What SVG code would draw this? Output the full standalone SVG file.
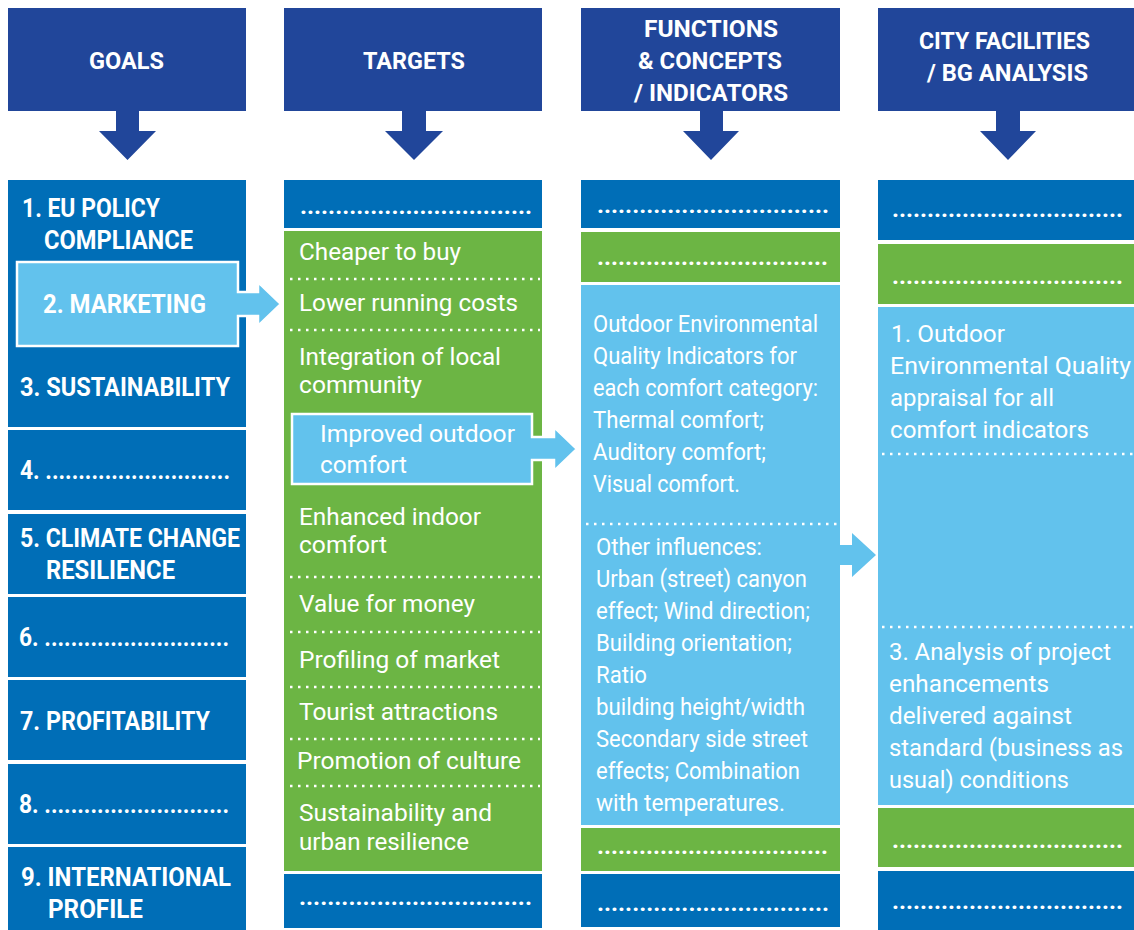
<svg xmlns="http://www.w3.org/2000/svg" width="1134" height="930" viewBox="0 0 1134 930">
<style>
.hdr{fill:#21469a}
.dk{fill:#006eb7}
.gr{fill:#6cb544}
.lb{fill:#62c2ed}
text{font-family:Roboto,"Liberation Sans",sans-serif;fill:#fff}
.h{font-size:24px;font-weight:700}
.g{font-size:25px;font-weight:700}
.t{font-size:23px;font-weight:400}
.f{font-size:23.5px;font-weight:400}
.d{font-size:24px;font-weight:700}
.dl{stroke:#fff;stroke-width:2.5;stroke-dasharray:2.5 5.5;fill:none}
</style>
<rect width="1134" height="930" fill="#fff"/>

<g id="header-goals">
<rect class="hdr" x="8" y="8" width="238" height="103"/>
<path class="hdr" d="M116,110 H139 V131 H156 L127.5,160 L99,131 H116 Z"/>
<text class="h" x="89" y="69" textLength="75" lengthAdjust="spacingAndGlyphs">GOALS</text>
</g>
<g id="header-targets">
<rect class="hdr" x="284" y="8" width="258" height="103"/>
<path class="hdr" d="M402,110 H426 V131 H443 L414,160 L385,131 H402 Z"/>
<text class="h" x="363" y="69" textLength="102" lengthAdjust="spacingAndGlyphs">TARGETS</text>
</g>
<g id="header-functions">
<rect class="hdr" x="581" y="8" width="259" height="103"/>
<path class="hdr" d="M700,110 H723 V131 H739 L711,160 L683,131 H700 Z"/>
<text class="h" x="644" y="37" textLength="134" lengthAdjust="spacingAndGlyphs">FUNCTIONS</text>
<text class="h" x="638" y="69" textLength="144" lengthAdjust="spacingAndGlyphs">&amp; CONCEPTS</text>
<text class="h" x="634" y="101" textLength="154" lengthAdjust="spacingAndGlyphs">/ INDICATORS</text>
</g>
<g id="header-city">
<rect class="hdr" x="878" y="8" width="256" height="103"/>
<path class="hdr" d="M996,110 H1020 V131 H1036 L1008,160 L980,131 H996 Z"/>
<text class="h" x="919" y="49" textLength="171" lengthAdjust="spacingAndGlyphs">CITY FACILITIES</text>
<text class="h" x="927" y="81" textLength="161" lengthAdjust="spacingAndGlyphs">/ BG ANALYSIS</text>
</g>

<g id="goals">
<rect class="dk" x="8" y="180" width="238" height="247"/>
<rect class="dk" x="8" y="430" width="238" height="80"/>
<rect class="dk" x="8" y="514" width="238" height="80"/>
<rect class="dk" x="8" y="597" width="238" height="80"/>
<rect class="dk" x="8" y="680" width="238" height="80"/>
<rect class="dk" x="8" y="764" width="238" height="80"/>
<rect class="dk" x="8" y="847" width="238" height="83"/>
<text class="g" x="22" y="217" textLength="138" lengthAdjust="spacingAndGlyphs">1. EU POLICY</text>
<text class="g" x="44" y="249" textLength="149" lengthAdjust="spacingAndGlyphs">COMPLIANCE</text>
<text class="g" x="20" y="396" textLength="210" lengthAdjust="spacingAndGlyphs">3. SUSTAINABILITY</text>
<text class="g" x="20" y="479" textLength="210" lengthAdjust="spacingAndGlyphs">4. ............................</text>
<text class="g" x="20" y="547" textLength="220" lengthAdjust="spacingAndGlyphs">5. CLIMATE CHANGE</text>
<text class="g" x="46" y="579" textLength="129" lengthAdjust="spacingAndGlyphs">RESILIENCE</text>
<text class="g" x="19" y="646" textLength="210" lengthAdjust="spacingAndGlyphs">6. ............................</text>
<text class="g" x="20" y="730" textLength="190" lengthAdjust="spacingAndGlyphs">7. PROFITABILITY</text>
<text class="g" x="19" y="813" textLength="210" lengthAdjust="spacingAndGlyphs">8. ............................</text>
<text class="g" x="21" y="886" textLength="210" lengthAdjust="spacingAndGlyphs">9. INTERNATIONAL</text>
<text class="g" x="48" y="918" textLength="95" lengthAdjust="spacingAndGlyphs">PROFILE</text>
</g>

<g id="targets">
<rect class="dk" x="284" y="180" width="258" height="48"/>
<rect class="gr" x="284" y="231" width="258" height="640"/>
<rect class="dk" x="284" y="874" width="258" height="54"/>
<text class="d" x="300" y="214" textLength="232" lengthAdjust="spacingAndGlyphs">.................................</text>
<text class="t" x="299" y="260" textLength="162" lengthAdjust="spacingAndGlyphs">Cheaper to buy</text>
<text class="t" x="299" y="311" textLength="219" lengthAdjust="spacingAndGlyphs">Lower running costs</text>
<text class="t" x="299" y="365" textLength="202" lengthAdjust="spacingAndGlyphs">Integration of local</text>
<text class="t" x="299" y="393" textLength="123" lengthAdjust="spacingAndGlyphs">community</text>
<text class="t" x="299" y="525" textLength="182" lengthAdjust="spacingAndGlyphs">Enhanced indoor</text>
<text class="t" x="299" y="553" textLength="88" lengthAdjust="spacingAndGlyphs">comfort</text>
<text class="t" x="299" y="612" textLength="176" lengthAdjust="spacingAndGlyphs">Value for money</text>
<text class="t" x="299" y="668" textLength="201" lengthAdjust="spacingAndGlyphs">Profiling of market</text>
<text class="t" x="299" y="720" textLength="199" lengthAdjust="spacingAndGlyphs">Tourist attractions</text>
<text class="t" x="297" y="769" textLength="224" lengthAdjust="spacingAndGlyphs">Promotion of culture</text>
<text class="t" x="299" y="821" textLength="193" lengthAdjust="spacingAndGlyphs">Sustainability and</text>
<text class="t" x="299" y="850" textLength="170" lengthAdjust="spacingAndGlyphs">urban resilience</text>
<text class="d" x="299" y="905" textLength="233" lengthAdjust="spacingAndGlyphs">.................................</text>
<g>
<line class="dl" x1="290" y1="279" x2="540" y2="279"/>
<line class="dl" x1="290" y1="330" x2="540" y2="330"/>
<line class="dl" x1="290" y1="577" x2="540" y2="577"/>
<line class="dl" x1="290" y1="632" x2="540" y2="632"/>
<line class="dl" x1="290" y1="687" x2="540" y2="687"/>
<line class="dl" x1="290" y1="739" x2="540" y2="739"/>
<line class="dl" x1="290" y1="786" x2="540" y2="786"/>
</g>
</g>

<g id="functions">
<rect class="dk" x="581" y="180" width="259" height="48"/>
<rect class="gr" x="581" y="232" width="259" height="50"/>
<rect class="lb" x="581" y="285" width="259" height="540"/>
<rect class="gr" x="581" y="828" width="259" height="43"/>
<rect class="dk" x="581" y="874" width="259" height="53"/>
<text class="d" x="597" y="213" textLength="232" lengthAdjust="spacingAndGlyphs">.................................</text>
<text class="d" x="597" y="265" textLength="231" lengthAdjust="spacingAndGlyphs">.................................</text>
<text class="f" x="593" y="332" textLength="225" lengthAdjust="spacingAndGlyphs">Outdoor Environmental</text>
<text class="f" x="593" y="364" textLength="204" lengthAdjust="spacingAndGlyphs">Quality Indicators for</text>
<text class="f" x="593" y="396" textLength="225" lengthAdjust="spacingAndGlyphs">each comfort category:</text>
<text class="f" x="593" y="428" textLength="171" lengthAdjust="spacingAndGlyphs">Thermal comfort;</text>
<text class="f" x="593" y="460" textLength="173" lengthAdjust="spacingAndGlyphs">Auditory comfort;</text>
<text class="f" x="593" y="492" textLength="147" lengthAdjust="spacingAndGlyphs">Visual comfort.</text>
<line class="dl" x1="586" y1="524" x2="840" y2="524"/>
<text class="f" x="596" y="555" textLength="166" lengthAdjust="spacingAndGlyphs">Other influences:</text>
<text class="f" x="596" y="587" textLength="211" lengthAdjust="spacingAndGlyphs">Urban (street) canyon</text>
<text class="f" x="596" y="619" textLength="214" lengthAdjust="spacingAndGlyphs">effect; Wind direction;</text>
<text class="f" x="596" y="651" textLength="196" lengthAdjust="spacingAndGlyphs">Building orientation;</text>
<text class="f" x="596" y="683" textLength="51" lengthAdjust="spacingAndGlyphs">Ratio</text>
<text class="f" x="596" y="715" textLength="209" lengthAdjust="spacingAndGlyphs">building height/width</text>
<text class="f" x="596" y="747" textLength="212" lengthAdjust="spacingAndGlyphs">Secondary side street</text>
<text class="f" x="596" y="779" textLength="204" lengthAdjust="spacingAndGlyphs">effects; Combination</text>
<text class="f" x="596" y="811" textLength="189" lengthAdjust="spacingAndGlyphs">with temperatures.</text>
<text class="d" x="597" y="854" textLength="231" lengthAdjust="spacingAndGlyphs">.................................</text>
<text class="d" x="597" y="911" textLength="232" lengthAdjust="spacingAndGlyphs">.................................</text>
</g>

<g id="city">
<rect class="dk" x="878" y="180" width="256" height="60"/>
<rect class="gr" x="878" y="244" width="256" height="60"/>
<rect class="lb" x="878" y="307" width="256" height="498"/>
<rect class="gr" x="878" y="808" width="256" height="59"/>
<rect class="dk" x="878" y="871" width="256" height="59"/>
<text class="d" x="892" y="217" textLength="231" lengthAdjust="spacingAndGlyphs">.................................</text>
<text class="d" x="892" y="284" textLength="231" lengthAdjust="spacingAndGlyphs">.................................</text>
<text class="f" x="891" y="342" textLength="114" lengthAdjust="spacingAndGlyphs">1. Outdoor</text>
<text class="f" x="890" y="374" textLength="241" lengthAdjust="spacingAndGlyphs">Environmental Quality</text>
<text class="f" x="890" y="406" textLength="164" lengthAdjust="spacingAndGlyphs">appraisal for all</text>
<text class="f" x="890" y="438" textLength="199" lengthAdjust="spacingAndGlyphs">comfort indicators</text>
<line class="dl" x1="882" y1="454" x2="1134" y2="454"/>
<line class="dl" x1="882" y1="627" x2="1134" y2="627"/>
<text class="f" x="889" y="660" textLength="222" lengthAdjust="spacingAndGlyphs">3. Analysis of project</text>
<text class="f" x="889" y="692" textLength="160" lengthAdjust="spacingAndGlyphs">enhancements</text>
<text class="f" x="889" y="724" textLength="183" lengthAdjust="spacingAndGlyphs">delivered against</text>
<text class="f" x="889" y="756" textLength="234" lengthAdjust="spacingAndGlyphs">standard (business as</text>
<text class="f" x="889" y="788" textLength="180" lengthAdjust="spacingAndGlyphs">usual) conditions</text>
<text class="d" x="892" y="848" textLength="231" lengthAdjust="spacingAndGlyphs">.................................</text>
<text class="d" x="892" y="909" textLength="231" lengthAdjust="spacingAndGlyphs">.................................</text>
</g>

<g id="connectors">
<g id="marketing">
<path class="lb" stroke="#fff" stroke-width="2.5" d="M17,262 H238 V292 H258 V282 L281,304 L258,326 V316 H238 V346 H17 Z"/>
<text class="g" x="43" y="313" textLength="163" lengthAdjust="spacingAndGlyphs">2. MARKETING</text>
</g>
<g id="improved-outdoor-comfort">
<path class="lb" stroke="#fff" stroke-width="2.5" d="M292,414 H532 V437 H554 V427 L577,449 L554,471 V460 H532 V484 H292 Z"/>
<text class="t" x="320" y="442" textLength="195" lengthAdjust="spacingAndGlyphs">Improved outdoor</text>
<text class="t" x="320" y="473" textLength="87" lengthAdjust="spacingAndGlyphs">comfort</text>
</g>
<path id="functions-to-city" class="lb" d="M839,545 H852 V533 L876,555 L852,577 V565 H839 Z"/>
</g>
</svg>
